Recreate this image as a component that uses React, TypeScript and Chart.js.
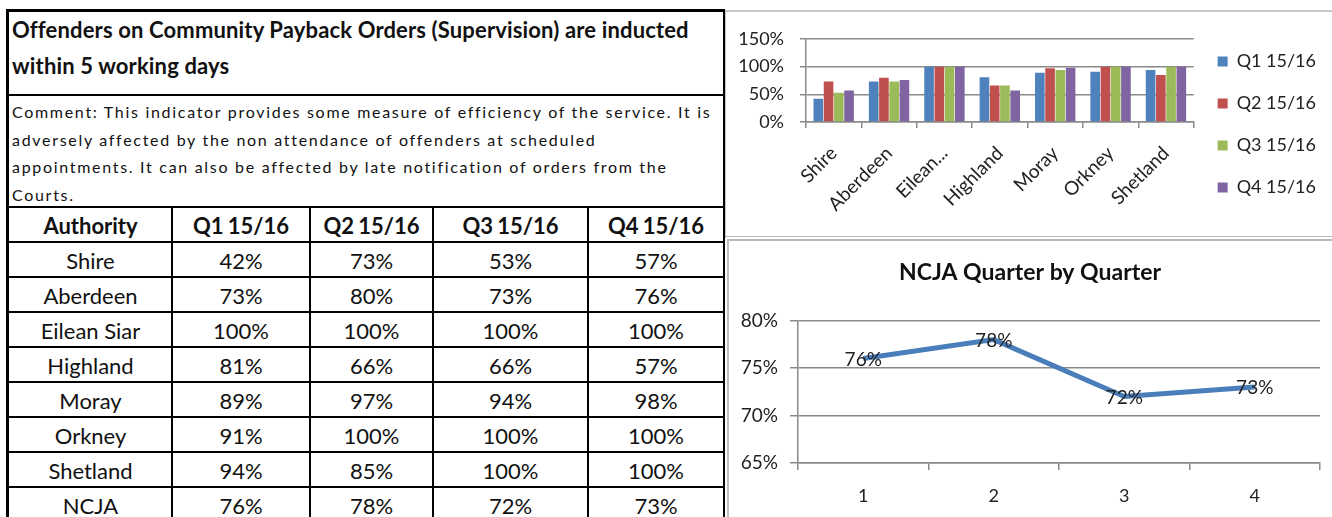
import React, { useEffect, useRef } from "react";
import { Chart, registerables } from "chart.js";

Chart.register(...registerables);

// ---------- data ----------
const authorities = ["Shire", "Aberdeen", "Eilean Siar", "Highland", "Moray", "Orkney", "Shetland"];
const barTickLabels = ["Shire", "Aberdeen", "Eilean...", "Highland", "Moray", "Orkney", "Shetland"];
const quarterNames = ["Q1 15/16", "Q2 15/16", "Q3 15/16", "Q4 15/16"];
const q1Values = [42, 73, 100, 81, 89, 91, 94];
const q2Values = [73, 80, 100, 66, 97, 100, 85];
const q3Values = [53, 73, 100, 66, 94, 100, 100];
const q4Values = [57, 76, 100, 57, 98, 100, 100];
const ncjaLabel = "NCJA";
const ncjaValues = [76, 78, 72, 73];
const lineTickLabels = ["1", "2", "3", "4"];
const seriesColors = ["#4F81BD", "#C0504D", "#9BBB59", "#8064A2"];

const titleLines = [
  "Offenders on Community Payback Orders (Supervision) are inducted",
  "within 5 working days",
];
const commentLines = [
  "Comment: This indicator provides some measure of efficiency of the service. It is",
  "adversely affected by the non attendance of offenders at scheduled",
  "appointments. It can also be affected by late notification of orders from the",
  "Courts.",
];
const lineChartTitle = "NCJA Quarter by Quarter";

const FONT = "Lato, 'Open Sans', sans-serif";

const colEdges = [9, 172, 310, 433, 588, 724];
const rowTop = 207;
const rowH = 35;

function HLine({ x, y, w, h, c }: { x: number; y: number; w: number; h: number; c: string }) {
  return <div style={{ position: "absolute", left: x, top: y, width: w, height: h, background: c }} />;
}

export default function App() {
  const barRef = useRef<HTMLCanvasElement>(null);
  const lineRef = useRef<HTMLCanvasElement>(null);

  useEffect(() => {
    const series = [q1Values, q2Values, q3Values, q4Values];
    const gridColor = "#8a8a8a";
    const bar = new Chart(barRef.current!, {
      type: "bar",
      data: {
        labels: barTickLabels,
        datasets: quarterNames.map((name, i) => ({
          label: name,
          data: series[i],
          backgroundColor: seriesColors[i],
          borderWidth: 0,
          categoryPercentage: 0.74,
          barPercentage: 0.94,
        })),
      },
      options: {
        animation: false,
        responsive: false,
        maintainAspectRatio: false,
        layout: { padding: { top: 27, right: 6, bottom: 13, left: 0 } },
        plugins: {
          title: {
            display: true,
            text: "",
            font: { family: FONT, size: 10 },
            lineHeight: 1.3,
            padding: 0,
          },
          legend: {
            position: "right",
            align: "center",
            labels: {
              boxWidth: 10,
              boxHeight: 10,
              padding: 24,
              color: "#222",
              font: { family: FONT, size: 18 },
            },
          },
          tooltip: { enabled: false },
        },
        scales: {
          x: {
            afterFit: (s: any) => {
              s.height = 100;
            },
            grid: { offset: true, drawOnChartArea: false, tickLength: 6, color: gridColor, lineWidth: 1.5 },
            border: { color: gridColor, width: 1.5 },
            ticks: {
              autoSkip: false,
              minRotation: 45,
              maxRotation: 45,
              padding: 14,
              color: "#222",
              font: { family: FONT, size: 19 },
            },
          },
          y: {
            min: 0,
            max: 150,
            afterFit: (s: any) => {
              s.width = 76;
            },
            grid: { color: gridColor, lineWidth: 1.5, tickLength: 6 },
            border: { color: gridColor, width: 1.5 },
            ticks: {
              stepSize: 50,
              padding: 16,
              color: "#222",
              font: { family: FONT, size: 18 },
              callback: (v: any) => v + "%",
            },
          },
        },
      },
    });

    const pointLabels = {
      id: "pointLabels",
      afterDatasetsDraw(chart: any) {
        const ctx = chart.ctx;
        const meta = chart.getDatasetMeta(0);
        const vals = chart.data.datasets[0].data;
        ctx.save();
        ctx.font = `19px ${FONT}`;
        ctx.fillStyle = "#222";
        ctx.textAlign = "center";
        ctx.textBaseline = "middle";
        meta.data.forEach((el: any, i: number) => {
          ctx.fillText(vals[i] + "%", el.x, el.y + 1);
        });
        ctx.restore();
      },
    };

    const line = new Chart(lineRef.current!, {
      type: "line",
      data: {
        labels: lineTickLabels,
        datasets: [
          {
            label: ncjaLabel,
            data: ncjaValues,
            borderColor: "#4A7EBB",
            borderWidth: 5,
            pointRadius: 0,
            fill: false,
            tension: 0,
          },
        ],
      },
      options: {
        animation: false,
        responsive: false,
        maintainAspectRatio: false,
        layout: { padding: { top: 0, right: 12, bottom: 0, left: 0 } },
        plugins: {
          legend: { display: false },
          tooltip: { enabled: false },
          title: {
            display: true,
            text: lineChartTitle,
            color: "#111",
            font: { family: FONT, size: 23, weight: "bold" },
            padding: { top: 19, bottom: 34 },
          },
        },
        scales: {
          x: {
            offset: true,
            afterFit: (s: any) => {
              s.height = 54;
            },
            grid: { offset: true, drawOnChartArea: false, tickLength: 7, color: gridColor, lineWidth: 1.5 },
            border: { color: gridColor, width: 1.5 },
            ticks: { padding: 15, color: "#222", font: { family: FONT, size: 18 } },
          },
          y: {
            min: 65,
            max: 80,
            afterFit: (s: any) => {
              s.width = 58;
            },
            grid: { color: gridColor, lineWidth: 1.5, tickLength: 8 },
            border: { color: gridColor, width: 1.5 },
            ticks: {
              stepSize: 5,
              padding: 12,
              color: "#222",
              font: { family: FONT, size: 19 },
              callback: (v: any) => v + "%",
            },
          },
        },
      },
      plugins: [pointLabels],
    });

    return () => {
      bar.destroy();
      line.destroy();
    };
  }, []);

  const tableRows = [
    ...authorities.map((a, i) => [a, q1Values[i], q2Values[i], q3Values[i], q4Values[i]]),
    [ncjaLabel, ...ncjaValues],
  ];
  const header = ["Authority", ...quarterNames];

  const cells: any[] = [];
  header.forEach((h, c) => {
    cells.push(
      <div
        key={"h" + c}
        style={{
          position: "absolute",
          left: colEdges[c],
          top: rowTop,
          width: colEdges[c + 1] - colEdges[c],
          height: rowH,
          lineHeight: rowH + 2 + "px",
          textAlign: "center",
          fontWeight: 700,
          fontSize: 22,
          wordSpacing: -1,
        }}
      >
        {h}
      </div>
    );
  });
  tableRows.forEach((row, r) => {
    row.forEach((v, c) => {
      cells.push(
        <div
          key={r + "-" + c}
          style={{
            position: "absolute",
            left: colEdges[c],
            top: rowTop + rowH * (r + 1),
            width: colEdges[c + 1] - colEdges[c],
            height: rowH,
            lineHeight: rowH + 2 + "px",
            textAlign: "center",
            fontSize: 22,
          }}
        >
          {c === 0 ? v : v + "%"}
        </div>
      );
    });
  });

  const lines: any[] = [];
  lines.push(<HLine key="lb" x={6} y={9} w={3} h={520} c="#000" />);
  lines.push(<HLine key="tb" x={6} y={9} w={719} h={3} c="#000" />);
  lines.push(<HLine key="rb" x={723} y={9} w={2} h={520} c="#000" />);
  lines.push(<HLine key="t1" x={6} y={94} w={719} h={2} c="#000" />);
  for (let k = 0; k <= 9; k++) {
    lines.push(<HLine key={"r" + k} x={6} y={rowTop - 1 + rowH * k} w={719} h={2} c="#000" />);
  }
  for (let c = 1; c < colEdges.length - 1; c++) {
    lines.push(<HLine key={"c" + c} x={colEdges[c] - 1} y={rowTop} w={2} h={320} c="#000" />);
  }
  lines.push(<HLine key="g1" x={725} y={10} w={607} h={2} c="#c8c8c8" />);
  lines.push(<HLine key="g2" x={725} y={11} w={1} h={227} c="#c8c8c8" />);
  lines.push(<HLine key="g3" x={725} y={236} w={607} h={1} c="#b8b8b8" />);
  lines.push(<HLine key="g4" x={727} y={239} w={605} h={2} c="#b8b8b8" />);
  lines.push(<HLine key="g5" x={727} y={239} w={2} h={280} c="#c0c0c0" />);

  return (
    <div
      style={{
        position: "fixed",
        left: 0,
        top: 0,
        width: 1332,
        height: 517,
        overflow: "hidden",
        background: "#fff",
        fontFamily: FONT,
        color: "#111",
      }}
    >
      {titleLines.map((t, i) => (
        <div
          key={"t" + i}
          style={{
            position: "absolute",
            left: 12,
            top: 16 + i * 36,
            fontSize: 22,
            fontWeight: 700,
            letterSpacing: 0.15,
            lineHeight: "28px",
            whiteSpace: "nowrap",
          }}
        >
          {t}
        </div>
      ))}
      {commentLines.map((t, i) => (
        <div
          key={"c" + i}
          style={{
            position: "absolute",
            left: 12,
            top: 100 + i * 27.7,
            fontSize: 16,
            letterSpacing: 1.7,
            lineHeight: "24px",
            whiteSpace: "nowrap",
          }}
        >
          {t}
        </div>
      ))}
      {cells}
      {lines}
      <canvas
        ref={barRef}
        width={602}
        height={235}
        style={{ position: "absolute", left: 730, top: 0, width: 602, height: 235 }}
      />
      <canvas
        ref={lineRef}
        width={592}
        height={277}
        style={{ position: "absolute", left: 740, top: 240, width: 592, height: 277 }}
      />
    </div>
  );
}
